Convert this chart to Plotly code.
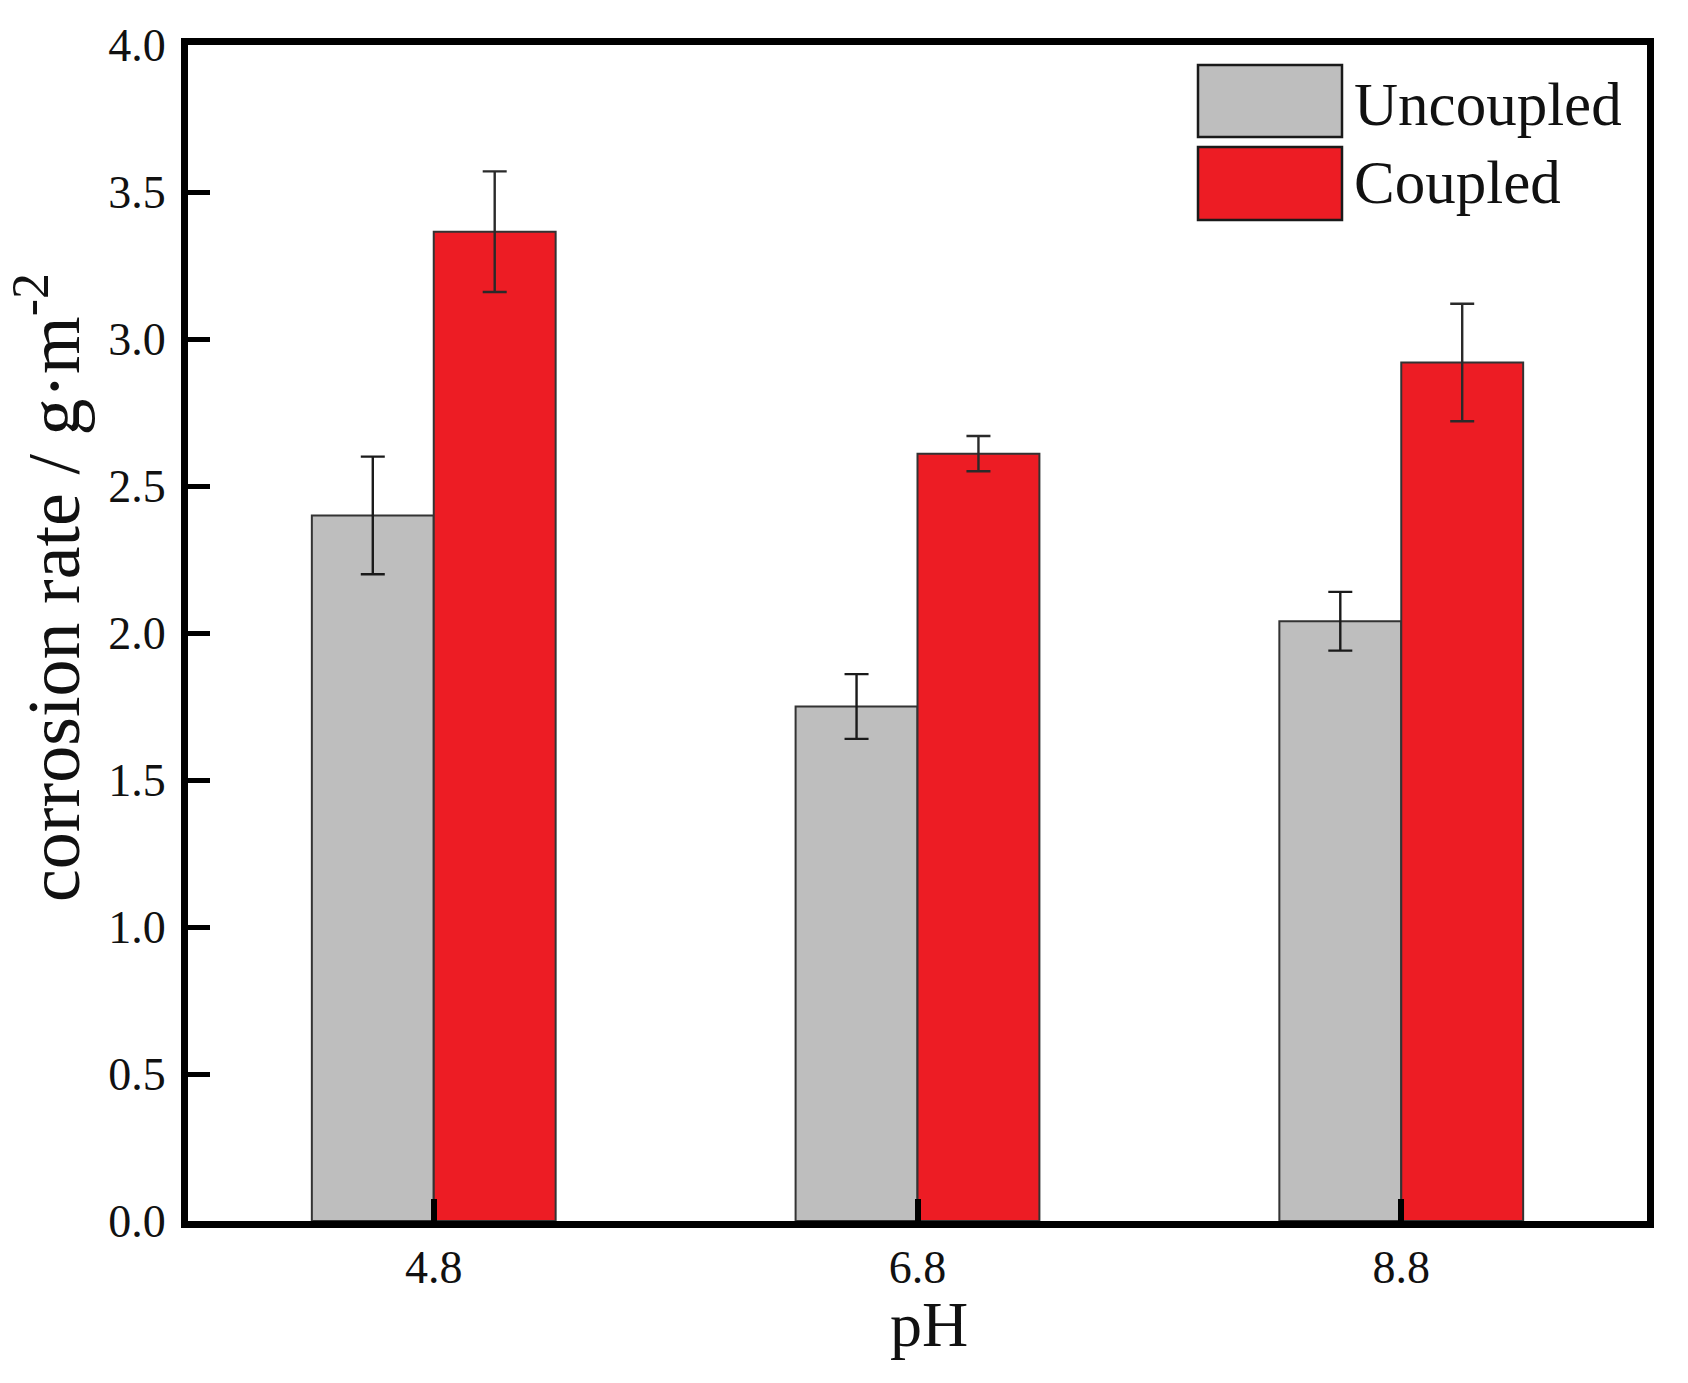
import plotly.graph_objects as go

# ---- data ----
ph_labels = ["4.8", "6.8", "8.8"]
series_names = ["Uncoupled", "Coupled"]
uncoupled = [2.40, 1.75, 2.04]
uncoupled_err = [0.20, 0.11, 0.10]
coupled = [3.365, 2.61, 2.92]
coupled_err = [0.205, 0.06, 0.20]
y_ticks = [0.0, 0.5, 1.0, 1.5, 2.0, 2.5, 3.0, 3.5, 4.0]

# ---- layout constants ----
W, H = 1688, 1383
L, R, T, B = 188, 41, 45, 162
FONT = "Liberation Serif"
GRAY = "#BEBEBE"
RED = "#ED1C24"
EDGE = "#333333"


def px_x(p):
    return (p - L) / (W - L - R)


def px_y(p):
    return (H - B - p) / (H - T - B)


fig = go.Figure()
fig.add_trace(go.Bar(
    x=ph_labels, y=uncoupled, name=series_names[0],
    marker=dict(color=GRAY, line=dict(color=EDGE, width=2)),
    error_y=dict(type="data", array=uncoupled_err, visible=True,
                 color="#1a1a1a", thickness=2.4, width=12),
))
fig.add_trace(go.Bar(
    x=ph_labels, y=coupled, name=series_names[1],
    marker=dict(color=RED, line=dict(color=EDGE, width=2)),
    error_y=dict(type="data", array=coupled_err, visible=True,
                 color="#2a2a2a", thickness=2.4, width=12),
))

# custom legend with large swatches (paper coordinates)
swatches = [(65, 137, GRAY, 104), (147, 220, RED, 183)]
for (y0, y1, col, ty), name in zip(swatches, series_names):
    fig.add_shape(type="rect", xref="paper", yref="paper",
                  x0=px_x(1198), x1=px_x(1342), y0=px_y(y1), y1=px_y(y0),
                  fillcolor=col, line=dict(color="#1a1a1a", width=2.5))
    fig.add_annotation(xref="paper", yref="paper", x=px_x(1352),
                       y=px_y(ty), xanchor="left", yanchor="middle",
                       text=name, showarrow=False,
                       font=dict(family=FONT, size=61, color="#111111"))

# axis titles as annotations for exact placement
fig.add_annotation(xref="paper", yref="paper", x=px_x(48), y=px_y(588),
                   xanchor="center", yanchor="middle", textangle=-90,
                   text="corrosion rate / g·m<sup>-2</sup>", showarrow=False,
                   font=dict(family=FONT, size=74, color="#111111"))
fig.add_annotation(xref="paper", yref="paper", x=px_x(929), y=px_y(1324),
                   xanchor="center", yanchor="middle", borderpad=0,
                   text="pH", showarrow=False,
                   font=dict(family=FONT, size=64, color="#111111"))

fig.update_layout(
    width=W, height=H,
    margin=dict(l=L, r=R, t=T, b=B),
    paper_bgcolor="white", plot_bgcolor="white",
    barmode="group", bargap=0.496, bargroupgap=0.0,
    showlegend=False,
    font=dict(family=FONT, color="#111111"),
)
fig.update_xaxes(
    type="category", range=[-0.508, 2.508],
    showline=True, linewidth=7, linecolor="black", mirror=True,
    ticks="inside", ticklen=22, tickwidth=6, tickcolor="black",
    tickfont=dict(family=FONT, size=46, color="#111111"),
    showgrid=False, zeroline=False,
)
fig.update_yaxes(
    range=[0, 4.0], tickvals=y_ticks, ticktext=[f"{v:.1f}" for v in y_ticks],
    showline=True, linewidth=7, linecolor="black", mirror=True,
    ticks="inside", ticklen=22, tickwidth=5, tickcolor="black",
    tickfont=dict(family=FONT, size=46, color="#111111"),
    ticklabelstandoff=6,
    showgrid=False, zeroline=False,
)

fig.write_html("out.html")
